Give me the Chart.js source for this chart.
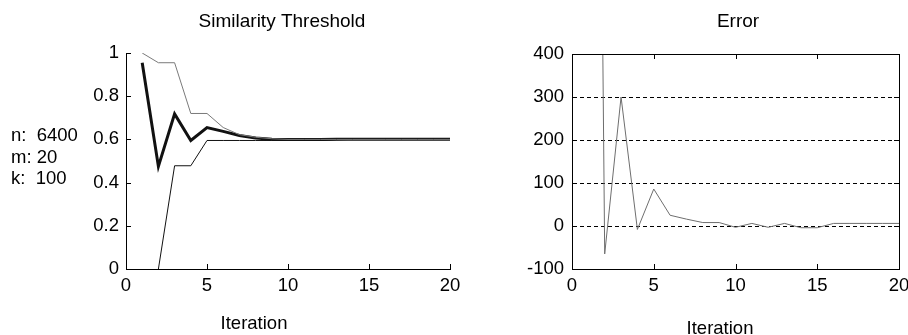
<!DOCTYPE html>
<html>
<head>
<meta charset="utf-8">
<script src="https://cdn.jsdelivr.net/npm/chart.js@4/dist/chart.umd.min.js"></script>
<style>
  body { margin: 0; background: #fff; }
  .box { position: absolute; top: 0; height: 335px; }
</style>
</head>
<body>
<div class="box" style="left:454px;width:454px"><canvas id="errChart" width="454" height="335"></canvas></div>
<div class="box" style="left:0;width:480px"><canvas id="simChart" width="480" height="335"></canvas></div>
<script>
// data
const iterations = [1, 2, 3, 4, 5, 6, 7, 8, 9, 10, 11, 12, 13, 14, 15, 16, 17, 18, 19, 20];
const upperBound = [1, 0.955, 0.955, 0.72, 0.72, 0.655, 0.622, 0.61, 0.603, 0.6, 0.6, 0.6, 0.6, 0.6, 0.6, 0.6, 0.6, 0.6, 0.6, 0.6];
const threshold  = [0.955, 0.475, 0.718, 0.595, 0.655, 0.637, 0.618, 0.606, 0.601, 0.6, 0.6, 0.6, 0.601, 0.601, 0.601, 0.601, 0.601, 0.601, 0.601, 0.601];
const lowerBound = [null, 0, 0.478, 0.478, 0.595, 0.595, 0.595, 0.595, 0.595, 0.595, 0.595, 0.595, 0.598, 0.6, 0.6, 0.6, 0.6, 0.6, 0.6, 0.6];
const errorVals  = [4000, -65, 300, -8, 86, 25, 16, 8, 8, -3, 6, -3, 6, -4, -4, 6, 6, 6, 6, 6];

const xTicks = [0, 5, 10, 15, 20];
const simTicks = [0, 0.2, 0.4, 0.6, 0.8, 1];
const errTicks = [-100, 0, 100, 200, 300, 400];
const infoLines = ['n:  6400', 'm: 20', 'k:  100'];

const FONT = "'Liberation Sans', Arial, sans-serif";
const FSIZE = 18.5;

function pts(vals) {
  return iterations.map((it, i) => ({ x: it, y: vals[i] }));
}

// MATLAB-like inward tick marks, optional full box, and free text
const decor = {
  id: 'decor',
  afterDraw(chart, args, opts) {
    const ctx = chart.ctx;
    const a = chart.chartArea;
    const x = chart.scales.x, y = chart.scales.y;
    ctx.save();
    ctx.strokeStyle = '#000';
    ctx.lineWidth = 1;
    ctx.beginPath();
    x.ticks.forEach(t => {
      const px = Math.round(x.getPixelForValue(t.value)) + 0.5;
      ctx.moveTo(px, a.bottom); ctx.lineTo(px, a.bottom - 5);
      if (opts.box) { ctx.moveTo(px, a.top); ctx.lineTo(px, a.top + 5); }
    });
    y.ticks.forEach(t => {
      const py = Math.round(y.getPixelForValue(t.value)) + 0.5;
      ctx.moveTo(a.left, py); ctx.lineTo(a.left + 5, py);
      if (opts.box) { ctx.moveTo(a.right, py); ctx.lineTo(a.right - 5, py); }
    });
    ctx.stroke();
    if (opts.box) {
      ctx.strokeRect(Math.round(a.left) + 0.5, Math.round(a.top) + 0.5,
        Math.round(a.right - a.left), Math.round(a.bottom - a.top));
    }
    ctx.fillStyle = '#000';
    ctx.textBaseline = 'middle';
    (opts.texts || []).forEach(t => {
      ctx.font = (t.size || FSIZE) + 'px ' + FONT;
      ctx.textAlign = t.align || 'center';
      ctx.fillText(t.text, t.x, t.y);
    });
    ctx.restore();
  }
};

function axisCommon(ticksArr, pad) {
  return {
    type: 'linear',
    afterBuildTicks: s => { s.ticks = ticksArr.map(v => ({ value: v })); },
    ticks: {
      color: '#000', font: { family: FONT, size: FSIZE }, padding: pad,
      callback: v => String(Math.round(v * 10) / 10)
    },
    border: { display: true, color: '#000', width: 1 }
  };
}

function fitX(s) { s.height = 32; s.paddingLeft = 0; s.paddingRight = 0; }

new Chart(document.getElementById('simChart'), {
  type: 'line',
  data: {
    datasets: [
      { data: pts(upperBound), borderColor: '#7a7a7a', borderWidth: 1 },
      { data: pts(threshold), borderColor: '#111', borderWidth: 3 },
      { data: pts(lowerBound), borderColor: '#111', borderWidth: 1 }
    ]
  },
  options: {
    responsive: false,
    animation: false,
    devicePixelRatio: 1,
    elements: { point: { radius: 0 }, line: { tension: 0 } },
    layout: { padding: { top: 53, right: 30, bottom: 34, left: 0 } },
    plugins: {
      legend: { display: false },
      tooltip: { enabled: false },
      decor: {
        box: false,
        texts: [
          { text: 'Similarity Threshold', x: 282, y: 22, size: 19 },
          { text: 'Iteration', x: 254, y: 324 },
          { text: infoLines[0], x: 11, y: 136, align: 'left' },
          { text: infoLines[1], x: 11, y: 158, align: 'left' },
          { text: infoLines[2], x: 11, y: 179, align: 'left' }
        ]
      }
    },
    scales: {
      x: Object.assign(axisCommon(xTicks, 6), {
        min: 0, max: 20,
        grid: { display: false, drawTicks: false },
        afterFit: fitX
      }),
      y: Object.assign(axisCommon(simTicks, 7), {
        min: 0, max: 1,
        grid: { display: false, drawTicks: false },
        afterFit: s => { s.width = 126; s.paddingTop = 0; s.paddingBottom = 0; }
      })
    }
  },
  plugins: [decor]
});

new Chart(document.getElementById('errChart'), {
  type: 'line',
  data: {
    datasets: [
      { data: pts(errorVals), borderColor: '#6e6e6e', borderWidth: 1 }
    ]
  },
  options: {
    responsive: false,
    animation: false,
    devicePixelRatio: 1,
    elements: { point: { radius: 0 }, line: { tension: 0 } },
    layout: { padding: { top: 54, right: 9, bottom: 34, left: 0 } },
    plugins: {
      legend: { display: false },
      tooltip: { enabled: false },
      decor: {
        box: true,
        texts: [
          { text: 'Error', x: 284, y: 22, size: 19 },
          { text: 'Iteration', x: 266, y: 329 }
        ]
      }
    },
    scales: {
      x: Object.assign(axisCommon(xTicks, 6), {
        min: 0, max: 20,
        grid: { display: false, drawTicks: false },
        afterFit: fitX
      }),
      y: Object.assign(axisCommon(errTicks, 8), {
        min: -100, max: 400,
        grid: { display: true, drawTicks: false, color: '#000', lineWidth: 1 },
        border: { display: true, color: '#000', width: 1, dash: [4, 3] },
        afterFit: s => { s.width = 118; s.paddingTop = 0; s.paddingBottom = 0; }
      })
    }
  },
  plugins: [decor]
});
</script>
</body>
</html>
